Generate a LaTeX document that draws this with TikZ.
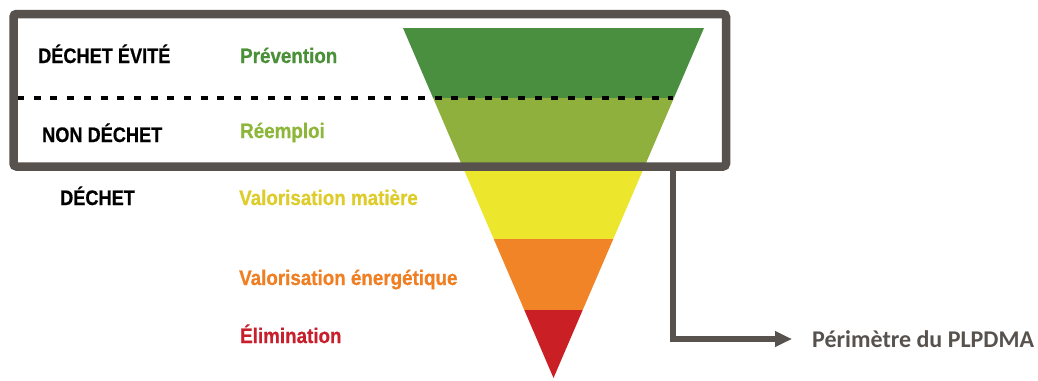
\documentclass[tikz,border=0pt]{standalone}
\usepackage{fontspec}
\setmainfont{Liberation Sans}
\newfontfamily\catfont[FakeStretch=0.865,FakeBold=0.6]{Liberation Sans}
\newfontfamily\lvlfont[FakeStretch=0.895,FakeBold=0.6]{Liberation Sans}
\newfontfamily\calfont{Carlito}
\usetikzlibrary{arrows.meta}
\definecolor{gdark}{HTML}{4A8F40}
\definecolor{glight}{HTML}{8FB03C}
\definecolor{yel}{HTML}{ECE62D}
\definecolor{ora}{HTML}{F18427}
\definecolor{red1}{HTML}{CB1F26}
\definecolor{tgdark}{HTML}{4A9038}
\definecolor{tglight}{HTML}{8DB63A}
\definecolor{tyel}{HTML}{DDCC2A}
\definecolor{tora}{HTML}{F07E22}
\definecolor{tred}{HTML}{C71F2B}
\definecolor{frame}{HTML}{57524E}
\begin{document}
\begin{tikzpicture}[x=1pt,y=-1pt,
  cat/.style={anchor=base west,inner sep=0pt,font=\catfont\bfseries\fontsize{21}{23}\selectfont,text=black},
  lvl/.style={anchor=base west,inner sep=0pt,font=\lvlfont\bfseries\fontsize{21}{23}\selectfont},
  frameline/.style={draw=frame,line width=8.5pt,rounded corners=3pt},
  dotline/.style={draw=black,line width=4pt,dash pattern=on 7pt off 9.7pt},
  conn/.style={draw=frame,line width=6pt,-{Triangle[length=17pt,width=15pt]}},
  perim/.style={anchor=west,inner sep=0pt,font=\calfont\bfseries\fontsize{24}{26}\selectfont,text=frame}]
\useasboundingbox (0,0) rectangle (1038,380);
% funnel bands
\fill[gdark] (403,28) -- (704,28) -- (673.9,98) -- (433.1,98) -- cycle;
\fill[glight] (433.1,98) -- (673.9,98) -- (644.7,166) -- (462.3,166) -- cycle;
\fill[yel] (462.3,166) -- (644.7,166) -- (613.3,239) -- (493.7,239) -- cycle;
\fill[ora] (493.7,239) -- (613.3,239) -- (582.7,310) -- (524.3,310) -- cycle;
\fill[red1] (524.3,310) -- (582.7,310) -- (553.5,378) -- cycle;
% dotted separator
\draw[dotline] (17,98) -- (673,98);
% frame
\draw[frameline] (13.5,14) rectangle (726,166.5);
\coordinate (fb) at (673,166.5);
% labels
\node[cat] (evite) at (38,63) {DÉCHET ÉVITÉ};
\node[cat] (nondechet) at (42,142) {NON DÉCHET};
\node[cat] (dechet) at (60,205) {DÉCHET};
\node[lvl,text=tgdark] (prev) at (240,63) {Prévention};
\node[lvl,text=tglight] (reem) at (240,138) {Réemploi};
\node[lvl,text=tyel] (valm) at (239,205) {Valorisation matière};
\node[lvl,text=tora] (vale) at (239,285) {Valorisation énergétique};
\node[lvl,text=tred] (elim) at (240,343) {Élimination};
\node[perim] (per) at (812,339) {Périmètre du PLPDMA};
\draw[conn,shorten >=20pt] (fb) |- (per.west);
\end{tikzpicture}
\end{document}
